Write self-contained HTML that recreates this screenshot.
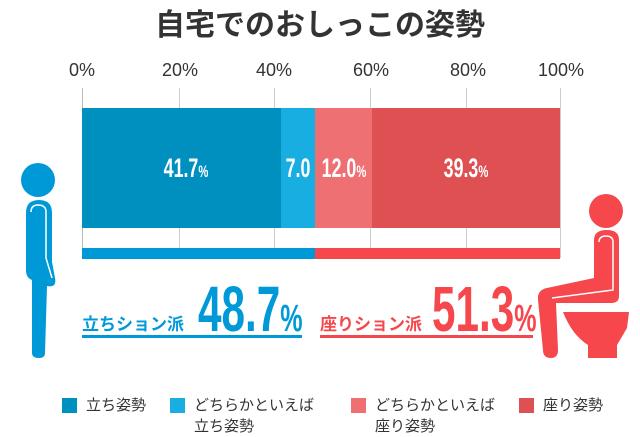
<!DOCTYPE html>
<html><head><meta charset="utf-8"><style>
*{margin:0;padding:0}
body{width:640px;height:433px;background:#fff;position:relative;overflow:hidden;font-family:"Liberation Sans","Noto Sans CJK JP",sans-serif}
.a{position:absolute}
.t{font-size:18px;color:#333;width:60px;text-align:center;top:60px}
.n{font-weight:bold;color:#fff;font-size:27px;transform:scaleX(0.66);transform-origin:center;white-space:nowrap;text-align:center;line-height:1}
.n small{font-size:17px}
.big{font-weight:bold;font-size:64px;transform:scaleX(0.66);transform-origin:left bottom;white-space:nowrap;line-height:1}
.big small{font-size:38px}
.lg{font-size:15px;color:#333;line-height:21px}
.sq{width:15px;height:15px}
</style></head><body>
<div class="a" style="left:0;width:640px;top:0px;text-align:center;font-size:30px;font-weight:bold;color:#333">自宅でのおしっこの姿勢</div>
<div class="a t" style="left:52px">0%</div>
<div class="a t" style="left:150px">20%</div>
<div class="a t" style="left:244px">40%</div>
<div class="a t" style="left:341px">60%</div>
<div class="a t" style="left:438px">80%</div>
<div class="a t" style="left:531px">100%</div>
<!-- grid -->
<div class="a" style="left:82px;top:88px;width:1px;height:170px;background:#bbb"></div>
<div class="a" style="left:179px;top:88px;width:1px;height:170px;background:#ccc"></div>
<div class="a" style="left:274px;top:88px;width:1px;height:170px;background:#ccc"></div>
<div class="a" style="left:370px;top:88px;width:1px;height:170px;background:#ccc"></div>
<div class="a" style="left:466px;top:88px;width:1px;height:170px;background:#ccc"></div>
<div class="a" style="left:560px;top:88px;width:1px;height:170px;background:#ccc"></div>
<!-- bars -->
<div class="a" style="left:82px;top:108px;width:199px;height:120px;background:#0090c0"></div>
<div class="a" style="left:281px;top:108px;width:34px;height:120px;background:#18aee2"></div>
<div class="a" style="left:315px;top:108px;width:57px;height:120px;background:#ee7072"></div>
<div class="a" style="left:372px;top:108px;width:188px;height:120px;background:#de5052"></div>
<div class="a n" style="left:136px;width:100px;top:155px">41.7<small>%</small></div>
<div class="a n" style="left:273px;width:50px;top:155px">7.0</div>
<div class="a n" style="left:300px;width:88px;top:155px">12.0<small>%</small></div>
<div class="a n" style="left:416px;width:100px;top:155px">39.3<small>%</small></div>
<div class="a" style="left:82px;top:248px;width:233px;height:11px;background:#0099d8"></div>
<div class="a" style="left:315px;top:248px;width:245px;height:11px;background:#f5474c"></div>
<!-- summary -->
<div class="a" style="left:82px;top:310px;font-size:17px;font-weight:bold;color:#0099d8">立ちション派</div>
<div class="a big" style="left:198px;top:277px;color:#0099d8">48.7<small>%</small></div>
<div class="a" style="left:82px;top:335px;width:220px;height:3px;background:#0099d8"></div>
<div class="a" style="left:320px;top:310px;font-size:17px;font-weight:bold;color:#f5474c">座りション派</div>
<div class="a big" style="left:432px;top:277px;color:#f5474c">51.3<small>%</small></div>
<div class="a" style="left:320px;top:335px;width:213px;height:3px;background:#f5474c"></div>
<!-- standing person -->
<svg class="a" style="left:0;top:150px" width="80" height="220">
<circle cx="38" cy="30" r="17" fill="#0099d8"/>
<path d="M26 63 Q26 50 39 50 Q52 50 52 63 L52 112 L55 128 Q57 138 47 136 L45 203 Q45 208 39 208 Q32 208 32 203 L32 130 Q26 128 26 120 Z" fill="#0099d8"/>
<path d="M31 62 Q31 55 38 55 Q46 55 46 62 L46 108 L52 128" stroke="#fff" stroke-width="1.5" fill="none"/>
</svg>
<!-- sitting person -->
<svg class="a" style="left:0;top:0" width="640" height="433">
<circle cx="606" cy="211" r="17" fill="#f5474c"/>
<path d="M594 240 Q594 230 607 230 Q619 230 619 240 L619 296 Q619 303 611 303 L556 303 L558 350 Q558 358 551 358 Q543 358 543 350 L538 300 Q537 290 547 288 L594 278 Z" fill="#f5474c"/>
<path d="M599 242 Q599 236 606 236 Q613 236 613 242 L613 290 L552 298" stroke="#fff" stroke-width="1.5" fill="none"/>
<path d="M563 312 L629 312 L627 328 Q620 340 617 345 L617 358 L588 358 L588 345 Q572 335 563 312 Z" fill="#f5474c"/>
</svg>
<!-- legend -->
<div class="a sq" style="left:62px;top:398px;background:#0090c0"></div>
<div class="a lg" style="left:86px;top:395px">立ち姿勢</div>
<div class="a sq" style="left:170px;top:398px;background:#18aee2"></div>
<div class="a lg" style="left:194px;top:395px">どちらかといえば<br>立ち姿勢</div>
<div class="a sq" style="left:351px;top:398px;background:#ee7072"></div>
<div class="a lg" style="left:375px;top:395px">どちらかといえば<br>座り姿勢</div>
<div class="a sq" style="left:519px;top:398px;background:#de5052"></div>
<div class="a lg" style="left:543px;top:395px">座り姿勢</div>
</body></html>
